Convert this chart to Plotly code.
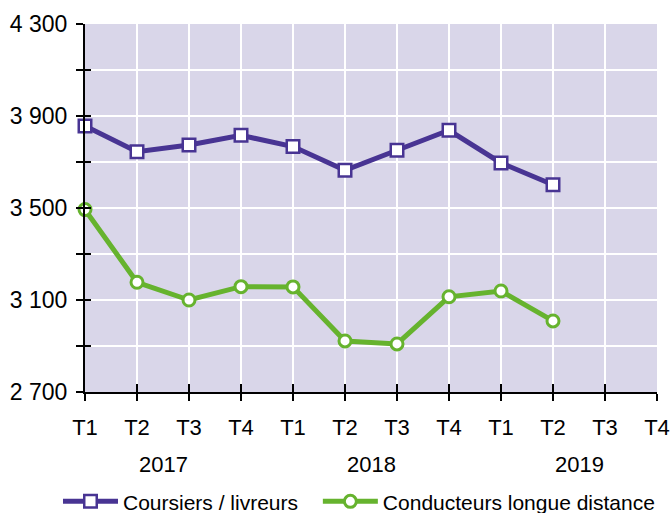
import plotly.graph_objects as go

quarters = ["T1", "T2", "T3", "T4", "T1", "T2", "T3", "T4", "T1", "T2", "T3", "T4"]
years = ["2017", "2018", "2019"]
coursiers = [3857, 3745, 3774, 3816, 3767, 3664, 3751, 3838, 3696, 3601]
conducteurs = [3493, 3177, 3100, 3158, 3157, 2922, 2909, 3114, 3139, 3009]
y_ticks = [2700, 3100, 3500, 3900, 4300]
y_tick_text = ["2 700", "3 100", "3 500", "3 900", "4 300"]

PURPLE = "#483493"
GREEN = "#66b32e"
FONT = "Liberation Sans"
x_idx = list(range(len(quarters)))
y_all = list(range(2700, 4301, 200))

fig = go.Figure()
fig.add_trace(go.Scatter(
    x=x_idx[:len(coursiers)], y=coursiers, name="Coursiers / livreurs",
    mode="lines+markers", line=dict(color=PURPLE, width=5),
    marker=dict(symbol="square", size=12.5, color="white", line=dict(color=PURPLE, width=2.5)),
    cliponaxis=False, legend="legend"))
fig.add_trace(go.Scatter(
    x=x_idx[:len(conducteurs)], y=conducteurs, name="Conducteurs longue distance",
    mode="lines+markers", line=dict(color=GREEN, width=5),
    marker=dict(symbol="circle", size=12, color="white", line=dict(color=GREEN, width=3)),
    cliponaxis=False, legend="legend2"))
# invisible trace to activate overlay axes
fig.add_trace(go.Scatter(x=[0], y=[2700], xaxis="x2", yaxis="y2", mode="markers",
                         marker=dict(opacity=0), showlegend=False, hoverinfo="skip"))

for i, yr in enumerate(years):
    fig.add_annotation(x=4 * i + 1.5, y=-0.1957, xref="x", yref="paper", text=yr,
                       showarrow=False, font=dict(size=22, color="black", family=FONT),
                       yanchor="middle")

leg_common = dict(orientation="h", y=0.022, xref="container", yref="container",
                  xanchor="left", yanchor="middle", font=dict(size=21), itemwidth=55,
                  tracegroupgap=0, bgcolor="rgba(0,0,0,0)")

fig.update_layout(
    width=672, height=513,
    margin=dict(l=85, r=15, t=24, b=121),
    plot_bgcolor="#d9d6e9", paper_bgcolor="white",
    font=dict(family=FONT, size=22, color="black"),
    showlegend=True,
    legend=dict(x=0.0863, **leg_common),
    legend2=dict(x=0.473, **leg_common),
    xaxis=dict(range=[0, 11], tickvals=x_idx, ticktext=quarters, showgrid=True,
               gridcolor="white", gridwidth=2, zeroline=False, showline=True,
               linecolor="black", linewidth=2, ticks="outside", ticklen=7,
               tickwidth=2, tickcolor="black", ticklabelstandoff=8, automargin=False),
    yaxis=dict(range=[2700, 4300], tickvals=y_all,
               ticktext=[y_tick_text[y_ticks.index(v)] if v in y_ticks else "" for v in y_all],
               tickfont=dict(size=23),
               showgrid=True, gridcolor="white", gridwidth=2, zeroline=False,
               showline=True, linecolor="black", linewidth=2, ticks="outside",
               ticklen=7, tickwidth=2, tickcolor="black", ticklabelstandoff=4, automargin=False),
    xaxis2=dict(range=[0, 11], overlaying="x", tickvals=x_idx, showticklabels=False,
                showgrid=False, zeroline=False, ticks="inside", ticklen=8, tickwidth=2,
                tickcolor="black", side="bottom", anchor="y", automargin=False),
    yaxis2=dict(range=[2700, 4300], overlaying="y", tickvals=y_all,
                showticklabels=False, showgrid=False, zeroline=False, ticks="inside",
                ticklen=6, tickwidth=2, tickcolor="black", side="left", anchor="x",
                automargin=False),
)

fig.write_html("out.html", config={"displayModeBar": False},
               post_script="document.body.style.margin='0px';")
